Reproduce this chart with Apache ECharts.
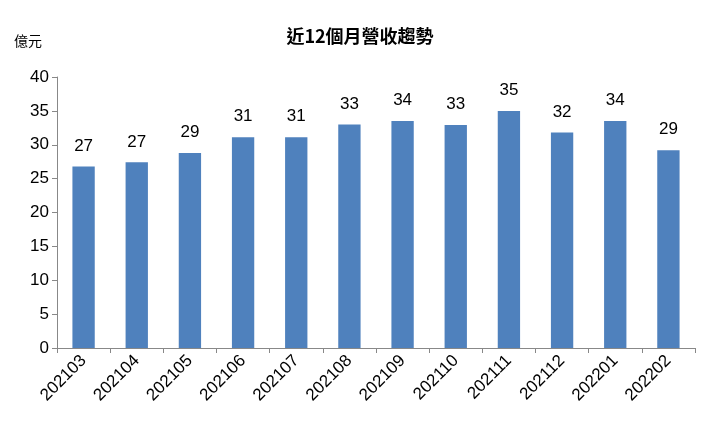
<!DOCTYPE html>
<html>
<head>
<meta charset="utf-8">
<script src="https://cdn.jsdelivr.net/npm/echarts@6/dist/echarts.min.js"></script>
<style>html,body{margin:0;padding:0;background:#fff}#main{width:720px;height:434px}</style>
</head>
<body>
<div id="main"></div>
<script>
var months = ['202103','202104','202105','202106','202107','202108','202109','202110','202111','202112','202201','202202'];
var revenue = [26.8, 27.4, 28.8, 31.1, 31.1, 33.0, 33.5, 32.9, 35.0, 31.8, 33.5, 29.2];

var myChart = echarts.init(document.getElementById('main'));
var option = {
  textStyle: { fontFamily: 'Liberation Sans, Noto Sans CJK TC' },
  title: {
    text: '近12個月營收趨勢',
    left: 'center',
    top: 22,
    textStyle: { fontSize: 18, fontWeight: 'bold', color: '#000', fontFamily: 'Noto Sans CJK TC' }
  },
  graphic: [{
    type: 'text', left: 14, top: 34,
    style: { text: '億元', fontSize: 14, fill: '#000', fontFamily: 'Noto Sans CJK TC' }
  }],
  grid: { left: 57, right: 25, top: 77, bottom: 86 },
  xAxis: {
    type: 'category',
    data: months,
    axisLine: { lineStyle: { color: '#888' } },
    axisTick: { show: true, lineStyle: { color: '#888' } },
    axisLabel: { rotate: 45, color: '#000', fontSize: 17, margin: 10 }
  },
  yAxis: {
    type: 'value',
    min: 0, max: 40, interval: 5,
    axisLine: { show: true, lineStyle: { color: '#888' } },
    axisTick: { show: true, lineStyle: { color: '#888' } },
    splitLine: { show: false },
    axisLabel: { color: '#000', fontSize: 17 }
  },
  series: [{
    type: 'bar',
    data: revenue,
    barWidth: '42%',
    itemStyle: { color: '#4f81bd' },
    label: {
      show: true, position: 'top', distance: 12,
      color: '#000', fontSize: 17,
      formatter: function (p) { return Math.round(p.value); }
    }
  }]
};
option && myChart.setOption(option);
</script>
</body>
</html>
